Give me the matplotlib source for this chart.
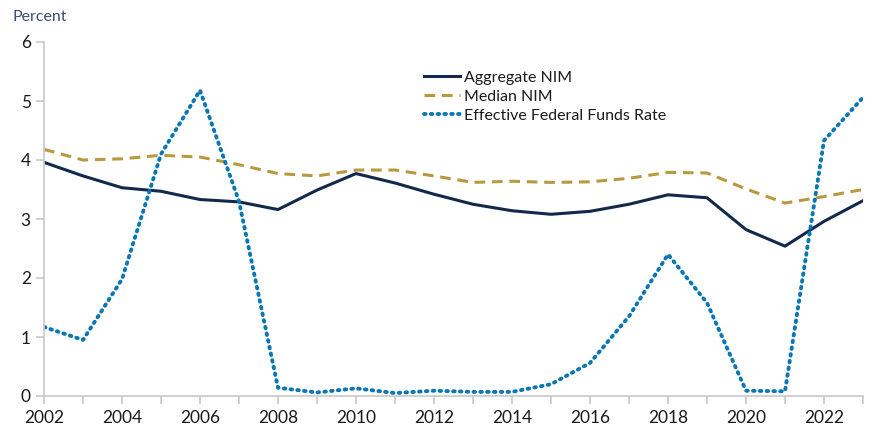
import matplotlib
matplotlib.use("Agg")
import matplotlib.pyplot as plt

plt.rcParams['font.family'] = ['Lato', 'DejaVu Sans']

years = list(range(2002, 2024))
aggregate_nim = [3.96, 3.73, 3.53, 3.47, 3.33, 3.29, 3.16, 3.49, 3.77, 3.61, 3.42,
                 3.25, 3.14, 3.08, 3.13, 3.25, 3.41, 3.36, 2.82, 2.54, 2.96, 3.31]
median_nim = [4.18, 4.00, 4.02, 4.08, 4.05, 3.92, 3.77, 3.73, 3.83, 3.83, 3.73,
              3.62, 3.64, 3.62, 3.63, 3.69, 3.79, 3.78, 3.51, 3.27, 3.38, 3.50]
fed_funds = [1.17, 0.95, 1.98, 4.10, 5.18, 3.30, 0.14, 0.06, 0.13, 0.05, 0.09,
             0.07, 0.07, 0.20, 0.56, 1.35, 2.40, 1.58, 0.09, 0.08, 4.33, 5.06]

fig = plt.figure(figsize=(8.74, 4.29), dpi=100)
ax = fig.add_axes([44/874, 1-396/429, (863-44)/874, (396-42)/429])

ax.plot(years, aggregate_nim, color='#13294b', lw=2.2, label='Aggregate NIM')
ax.plot(years, median_nim, color='#b89a3e', lw=2.2, ls=(0, (3.5, 2.2)), label='Median NIM')
ax.plot(years, fed_funds, color='#0a77b5', lw=2.8, ls=(0, (0.4, 1.35)),
        dash_capstyle='round', label='Effective Federal Funds Rate')

ax.set_xlim(2002, 2023)
ax.set_ylim(0, 6)
ax.set_xticks(years)
ax.set_xticklabels([str(y) if y % 2 == 0 else '' for y in years])
ax.set_yticks(range(0, 7))

for s in ['top', 'right']:
    ax.spines[s].set_visible(False)
for s in ['left', 'bottom']:
    ax.spines[s].set_color('#c8c8c8')
    ax.spines[s].set_linewidth(1.2)
ax.tick_params(axis='both', colors='#c8c8c8', labelcolor='#1a1a1a', labelsize=12.5,
               length=6, width=1.2)
ax.tick_params(axis='x', pad=4)

fig.text(12/874, 1-17/429, 'Percent', color='#3a4f72', fontsize=11.5, va='center', ha='left')

leg = ax.legend(loc='upper left', bbox_to_anchor=(374/819, 1-22/354), frameon=False,
                fontsize=11.5, handlelength=2.2, handletextpad=0.3, labelspacing=0.3,
                borderaxespad=0)
for t in leg.get_texts():
    t.set_color('#1a1a1a')

fig.savefig('out.png', dpi=100)
